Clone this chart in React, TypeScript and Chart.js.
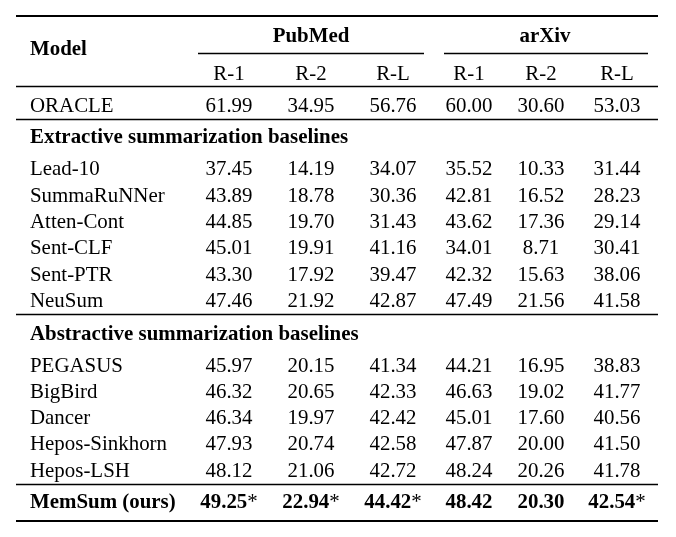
import React, { useEffect, useRef } from "react";
import { Chart, registerables } from "chart.js";

Chart.register(...registerables);

// ---------- data ----------
const datasetNames = ["PubMed", "arXiv"];
const metricNames = ["R-1", "R-2", "R-L"];
const sectionTitles = ["Extractive summarization baselines", "Abstractive summarization baselines"];
const oracleName = "ORACLE";
const extractiveModels = ["Lead-10", "SummaRuNNer", "Atten-Cont", "Sent-CLF", "Sent-PTR", "NeuSum"];
const abstractiveModels = ["PEGASUS", "BigBird", "Dancer", "Hepos-Sinkhorn", "Hepos-LSH"];
const oursName = "MemSum (ours)";

// rows order: ORACLE, extractive x6, abstractive x5, ours
const pubmedR1 = [61.99, 37.45, 43.89, 44.85, 45.01, 43.3, 47.46, 45.97, 46.32, 46.34, 47.93, 48.12, 49.25];
const pubmedR2 = [34.95, 14.19, 18.78, 19.7, 19.91, 17.92, 21.92, 20.15, 20.65, 19.97, 20.74, 21.06, 22.94];
const pubmedRL = [56.76, 34.07, 30.36, 31.43, 41.16, 39.47, 42.87, 41.34, 42.33, 42.42, 42.58, 42.72, 44.42];
const arxivR1 = [60.0, 35.52, 42.81, 43.62, 34.01, 42.32, 47.49, 44.21, 46.63, 45.01, 47.87, 48.24, 48.42];
const arxivR2 = [30.6, 10.33, 16.52, 17.36, 8.71, 15.63, 21.56, 16.95, 19.02, 17.6, 20.0, 20.26, 20.3];
const arxivRL = [53.03, 31.44, 28.23, 29.14, 30.41, 38.06, 41.58, 38.83, 41.77, 40.56, 41.5, 41.78, 42.54];
// significance marks (*) on the last row, per column
const oursSignificant = [true, true, true, false, false, true];

// ---------- layout (scale units == pixels) ----------
const W = 676;
const H = 537;
const FONT = '"Liberation Serif", "Times New Roman", serif';
const FS = 22;
const SX = 0.95;
const LEFT_X = 30;
const COL_X = [229, 311, 393, 469, 541, 617];
const GROUP_X = [311, 545];
const RULE_L = 16;
const RULE_R = 658;
const CMID = [[198, 424], [444, 648]];
const Y_GROUP = 42;
const Y_MODEL = 55;
const Y_METRIC = 80;
const Y_ORACLE = 111.5;
const Y_SEC1 = 143;
const Y_EXT = [175, 201.5, 228, 254, 280.5, 307];
const Y_SEC2 = 340;
const Y_ABS = [371.7, 397.8, 424, 450.3, 476.7];
const Y_OURS = 508;
const THICK = [16, 521];
const THIN = [86, 119, 314, 484];
const Y_CMID = 53;

const columns = [pubmedR1, pubmedR2, pubmedRL, arxivR1, arxivR2, arxivRL];

const tablePlugin = {
  id: "tablePlugin",
  afterDraw(chart: any) {
    const ctx = chart.ctx as CanvasRenderingContext2D;
    const xs = chart.scales.x;
    const ys = chart.scales.y;
    const px = (v: number) => xs.getPixelForValue(v);
    const py = (v: number) => ys.getPixelForValue(v);
    const reg = `${FS}px ${FONT}`;
    const bold = `bold ${FS}px ${FONT}`;
    ctx.save();
    ctx.fillStyle = "#000";
    ctx.strokeStyle = "#000";
    ctx.textBaseline = "alphabetic";

    const hline = (y: number, x0: number, x1: number, w: number) => {
      ctx.lineWidth = w;
      ctx.beginPath();
      ctx.moveTo(px(x0), py(y));
      ctx.lineTo(px(x1), py(y));
      ctx.stroke();
    };
    // draw text with slight horizontal condensing (Times-like proportions)
    const draw = (s: string, xLeft: number, y: number, font: string) => {
      ctx.save();
      ctx.font = font;
      ctx.textAlign = "left";
      ctx.translate(xLeft, y);
      ctx.scale(SX, 1);
      ctx.fillText(s, 0, 0);
      ctx.restore();
    };
    const width = (s: string, font: string) => {
      ctx.font = font;
      return ctx.measureText(s).width * SX;
    };
    const text = (s: string, x: number, y: number, align: "left" | "center", font: string) => {
      const w = width(s, font);
      const xx = align === "center" ? px(x) - w / 2 : px(x);
      draw(s, xx, py(y), font);
    };

    // rules
    THICK.forEach((y) => hline(y, RULE_L, RULE_R, 2));
    THIN.forEach((y) => hline(y + 0.5, RULE_L, RULE_R, 1.3));
    CMID.forEach(([a, b]) => hline(Y_CMID + 0.5, a, b, 1.3));

    // header
    text("Model", LEFT_X, Y_MODEL, "left", bold);
    datasetNames.forEach((d, i) => text(d, GROUP_X[i], Y_GROUP, "center", bold));
    COL_X.forEach((x, i) => text(metricNames[i % 3], x, Y_METRIC, "center", reg));

    // sections
    text(sectionTitles[0], LEFT_X, Y_SEC1, "left", bold);
    text(sectionTitles[1], LEFT_X, Y_SEC2, "left", bold);

    const rowNames = [oracleName, ...extractiveModels, ...abstractiveModels, oursName];
    const rowY = [Y_ORACLE, ...Y_EXT, ...Y_ABS, Y_OURS];
    const last = rowNames.length - 1;

    rowNames.forEach((name, r) => {
      const isOurs = r === last;
      text(name, LEFT_X, rowY[r], "left", isOurs ? bold : reg);
      columns.forEach((col, c) => {
        const s = col[r].toFixed(2);
        if (isOurs) {
          const star = oursSignificant[c] ? "*" : "";
          const w1 = width(s, bold);
          const w2 = star ? width(star, reg) : 0;
          const start = px(COL_X[c]) - (w1 + w2) / 2;
          draw(s, start, py(rowY[r]), bold);
          if (star) draw(star, start + w1, py(rowY[r]), reg);
        } else {
          text(s, COL_X[c], rowY[r], "center", reg);
        }
      });
    });
    ctx.restore();
  },
};

export default function App() {
  const ref = useRef<HTMLCanvasElement | null>(null);
  useEffect(() => {
    if (!ref.current) return;
    const chart = new Chart(ref.current, {
      type: "scatter",
      data: { datasets: [] },
      options: {
        responsive: false,
        animation: false,
        layout: { padding: 0 },
        plugins: { legend: { display: false }, tooltip: { enabled: false } },
        scales: {
          x: { type: "linear", display: false, min: 0, max: W },
          y: { type: "linear", display: false, min: 0, max: H, reverse: true },
        },
      },
      plugins: [tablePlugin],
    });
    return () => chart.destroy();
  }, []);
  return (
    <div style={{ position: "fixed", left: 0, top: 0, width: W, height: H, background: "#fff" }}>
      <canvas ref={ref} width={W} height={H} style={{ width: W, height: H, display: "block" }} />
    </div>
  );
}
